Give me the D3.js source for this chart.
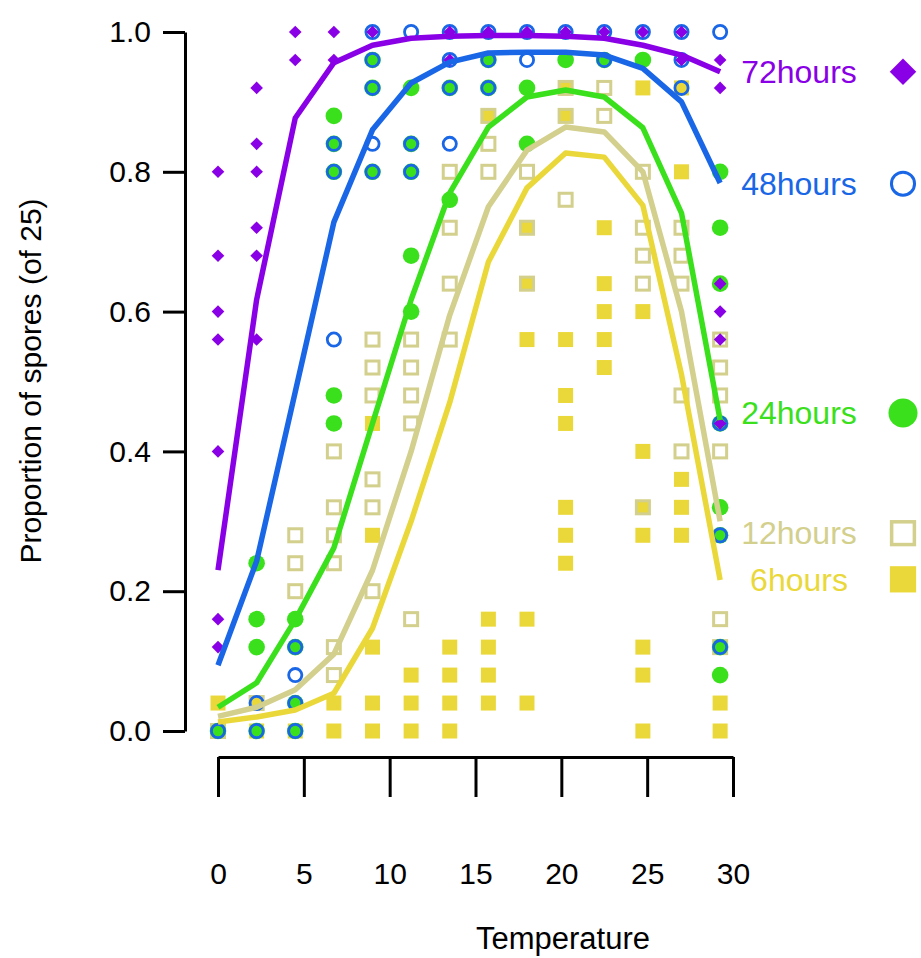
<!DOCTYPE html>
<html>
<head>
<meta charset="utf-8">
<script src="https://cdn.jsdelivr.net/npm/d3@7"></script>
<style>
  body { margin: 0; background: #fff; }
  svg text { font-family: "Liberation Sans", Arial, sans-serif; }
</style>
</head>
<body>
<svg id="chart" width="921" height="958"></svg>
<script>
// Incubation temperatures (°C)
const temperatures = [0, 2.25, 4.5, 6.75, 9, 11.25, 13.5, 15.75, 18, 20.25, 22.5, 24.75, 27, 29.25];

// Observed germinated proportions (of 25 spores), one list per temperature
const obs6h = [
  [0.04, 0], [0.04, 0], [0], [0.04, 0], [0.44, 0.28, 0.12, 0.04, 0], [0.08, 0.04, 0],
  [0.12, 0.08, 0.04, 0], [0.88, 0.16, 0.12, 0.08, 0.04], [0.72, 0.64, 0.56, 0.16, 0.04],
  [0.92, 0.88, 0.56, 0.48, 0.44, 0.32, 0.28, 0.24], [0.72, 0.64, 0.6, 0.56, 0.52],
  [0.92, 0.6, 0.4, 0.32, 0.28, 0.12, 0.08, 0], [0.92, 0.8, 0.36, 0.32, 0.28], [0.04, 0]
];
const obs12h = [
  [0], [0.04], [0.28, 0.24, 0.2], [0.4, 0.32, 0.28, 0.24, 0.12, 0.08],
  [0.56, 0.52, 0.48, 0.36, 0.32, 0.2], [0.56, 0.52, 0.48, 0.44, 0.16],
  [0.8, 0.72, 0.64, 0.56], [0.88, 0.84, 0.8], [0.8, 0.72, 0.64], [0.92, 0.88, 0.76],
  [0.92, 0.88], [0.8, 0.72, 0.68, 0.64, 0.32], [0.72, 0.68, 0.64, 0.48, 0.4],
  [0.56, 0.52, 0.48, 0.4, 0.16, 0.12]
];
const obs24h = [
  [0], [0.24, 0.16, 0.12, 0], [0.16, 0.12, 0.04, 0], [0.88, 0.84, 0.8, 0.48, 0.44],
  [0.96, 0.92, 0.8], [0.92, 0.84, 0.8, 0.68, 0.6], [0.92, 0.76], [0.96, 0.92],
  [0.92, 0.84], [0.96], [0.96], [0.96], [],
  [0.8, 0.72, 0.64, 0.44, 0.32, 0.28, 0.12, 0.08]
];
const obs48h = [
  [0], [0.04, 0], [0.12, 0.08, 0.04, 0], [0.84, 0.8, 0.56], [1, 0.96, 0.92, 0.84, 0.8],
  [1, 0.84, 0.8], [1, 0.96, 0.92, 0.84], [1, 0.96, 0.92], [1, 0.96], [1], [1, 0.96],
  [1], [1, 0.96, 0.92], [1, 0.44, 0.28, 0.12]
];
const obs72h = [
  [0.8, 0.68, 0.6, 0.56, 0.4, 0.16, 0.12], [0.92, 0.84, 0.8, 0.72, 0.68, 0.56],
  [1, 0.96], [1, 0.96], [1], [], [1, 0.96], [1], [1], [1], [1], [1], [1, 0.96],
  [0.96, 0.92, 0.64, 0.6, 0.56, 0.44]
];

// Fitted germination curves at each temperature
const fit6h  = [0.013, 0.02, 0.03, 0.054, 0.147, 0.30, 0.47, 0.671, 0.777, 0.827, 0.821, 0.752, 0.51, 0.216];
const fit12h = [0.021, 0.034, 0.059, 0.11, 0.23, 0.40, 0.595, 0.75, 0.831, 0.864, 0.857, 0.80, 0.60, 0.30];
const fit24h = [0.034, 0.069, 0.159, 0.262, 0.44, 0.617, 0.77, 0.864, 0.907, 0.917, 0.907, 0.863, 0.741, 0.445];
const fit48h = [0.094, 0.243, 0.485, 0.728, 0.86, 0.927, 0.957, 0.97, 0.971, 0.971, 0.967, 0.948, 0.90, 0.784];
const fit72h = [0.23, 0.617, 0.877, 0.956, 0.981, 0.991, 0.994, 0.995, 0.995, 0.994, 0.991, 0.981, 0.967, 0.943];

const seriesNames = ["6hours", "12hours", "24hours", "48hours", "72hours"];
const seriesColors = ["#ead83a", "#d3cf8c", "#3ae01c", "#1966e6", "#8a00e6"];
const seriesShapes = ["filledSquare", "openSquare", "filledCircle", "openCircle", "diamond"];
const labelLevels = [0.217, 0.283, 0.455, 0.783, 0.943];
const yTicks = [0, 0.2, 0.4, 0.6, 0.8, 1.0];
const xTicks = [0, 5, 10, 15, 20, 25, 30];

const observed = [obs6h, obs12h, obs24h, obs48h, obs72h];
const fitted = [fit6h, fit12h, fit24h, fit48h, fit72h];

const svg = d3.select("#chart");
const x = d3.scaleLinear().domain([0, 30]).range([218, 733]);
const y = d3.scaleLinear().domain([0, 1]).range([731, 32]);

// marker drawing: small for data points, larger for the key
function drawMarker(g, shape, color, cx, cy, big) {
  const k = big ? 1.75 : 1;
  if (shape === "filledSquare") {
    const s = 15 * k;
    g.append("rect").attr("x", cx - s / 2).attr("y", cy - s / 2).attr("width", s).attr("height", s)
      .attr("fill", color);
  } else if (shape === "openSquare") {
    const s = 13 * k;
    g.append("rect").attr("x", cx - s / 2).attr("y", cy - s / 2).attr("width", s).attr("height", s)
      .attr("fill", "none").attr("stroke", color).attr("stroke-width", big ? 3.5 : 3);
  } else if (shape === "filledCircle") {
    g.append("circle").attr("cx", cx).attr("cy", cy).attr("r", 8.3 * k).attr("fill", color);
  } else if (shape === "openCircle") {
    g.append("circle").attr("cx", cx).attr("cy", cy).attr("r", 6.6 * k)
      .attr("fill", "none").attr("stroke", color).attr("stroke-width", big ? 3 : 2.8);
  } else if (shape === "diamond") {
    const h = 6.3 * (big ? 2.1 : 1);
    g.append("path").attr("d", `M${cx},${cy - h}L${cx + h},${cy}L${cx},${cy + h}L${cx - h},${cy}Z`)
      .attr("fill", color);
  }
}

// points
const pts = svg.append("g").attr("class", "points");
observed.forEach((series, si) => {
  const g = pts.append("g");
  series.forEach((vals, ti) => {
    vals.forEach(v => drawMarker(g, seriesShapes[si], seriesColors[si], x(temperatures[ti]), y(v), false));
  });
});

// fitted curves
const line = d3.line().x((d, i) => x(temperatures[i])).y(d => y(d));
fitted.forEach((f, si) => {
  svg.append("path").datum(f).attr("d", line).attr("fill", "none")
    .attr("stroke", seriesColors[si]).attr("stroke-width", 5.5)
    .attr("stroke-linejoin", "round").attr("stroke-linecap", "butt");
});

// axes
const yAxis = svg.append("g").attr("transform", "translate(185,0)")
  .call(d3.axisLeft(y).tickValues(yTicks).tickFormat(d3.format(".1f")).tickSize(22).tickSizeOuter(0).tickPadding(12));
const xAxis = svg.append("g").attr("transform", "translate(0,757)")
  .call(d3.axisBottom(x).tickValues(xTicks).tickFormat(d3.format("d")).tickSize(40).tickSizeOuter(0).tickPadding(66));
[yAxis, xAxis].forEach(a => {
  a.select(".domain").attr("stroke", "#000").attr("stroke-width", 3);
  a.selectAll(".tick line").attr("stroke", "#000").attr("stroke-width", 3);
  a.selectAll(".tick text").attr("fill", "#000").style("font-size", "30px")
    .style("font-family", "'Liberation Sans', Arial, sans-serif");
});

// axis titles
svg.append("text").attr("transform", "translate(30,381) rotate(-90)")
  .attr("text-anchor", "middle").attr("dy", "0.35em").style("font-size", "30px")
  .text("Proportion of spores (of 25)");
svg.append("text").attr("x", 563).attr("y", 938).attr("text-anchor", "middle").attr("dy", "0.35em")
  .style("font-size", "31px").text("Temperature");

// key: labels at curve ends with markers to the right
seriesNames.forEach((name, si) => {
  const ly = y(labelLevels[si]);
  svg.append("text").attr("x", 799).attr("y", ly).attr("dy", "0.35em").attr("text-anchor", "middle")
    .attr("fill", seriesColors[si]).style("font-size", "32px").text(name);
  drawMarker(svg.append("g"), seriesShapes[si], seriesColors[si], 903, ly, true);
});
</script>
</body>
</html>
